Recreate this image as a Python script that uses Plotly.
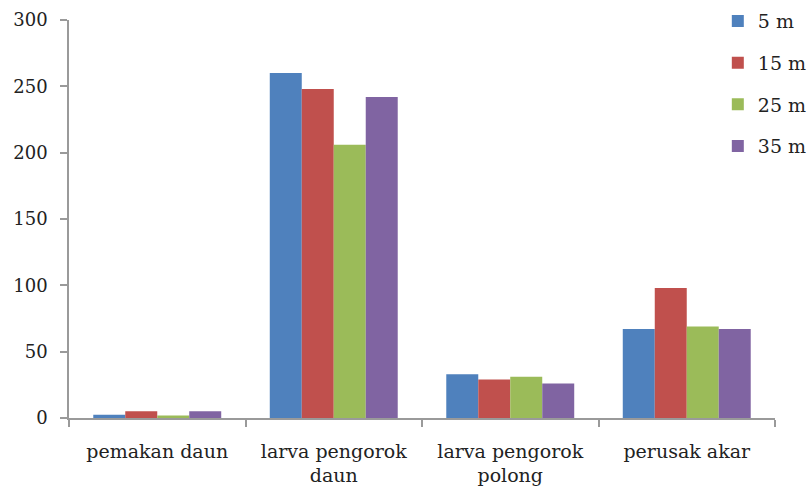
import plotly.graph_objects as go

categories = ["pemakan daun", "larva pengorok<br>daun", "larva pengorok<br>polong", "perusak akar"]
series_names = ["5 m", "15 m", "25 m", "35 m"]
values_5m = [2.5, 260, 33, 67]
values_15m = [5, 248, 29, 98]
values_25m = [1.8, 206, 31, 69]
values_35m = [5, 242, 26, 67]
colors = ["#4F81BD", "#C0504D", "#9BBB59", "#8064A2"]
y_ticks = [0, 50, 100, 150, 200, 250, 300]

fig = go.Figure()
for name, vals, col in zip(series_names, [values_5m, values_15m, values_25m, values_35m], colors):
    fig.add_trace(go.Bar(x=categories, y=vals, name=name, marker=dict(color=col, line=dict(width=0)),
                         legendgroup=name))

font_family = "DejaVu Serif, Liberation Serif, serif"
fig.update_layout(
    width=811, height=489,
    margin=dict(l=69, r=36, t=20, b=71, autoexpand=False),
    paper_bgcolor="white", plot_bgcolor="white",
    barmode="group", bargap=0.275, bargroupgap=0,
    font=dict(family=font_family, size=19, color="#222222"),
    showlegend=True,
    legend=dict(x=0.919, y=1.045, xanchor="left", yanchor="top",
                font=dict(family=font_family, size=19, color="#222222"),
                tracegroupgap=14, traceorder="grouped", bgcolor="rgba(0,0,0,0)",
                itemwidth=30),
    xaxis=dict(showline=True, linecolor="#9a9a9a", linewidth=1.5, ticks="outside",
               tickson="boundaries", ticklen=7, tickcolor="#9a9a9a", tickwidth=1.5,
               showgrid=False, tickfont=dict(size=19), ticklabelstandoff=15),
    yaxis=dict(range=[0, 300], tickvals=y_ticks, showline=True, linecolor="#9a9a9a",
               linewidth=1.5, ticks="outside", ticklen=7, tickcolor="#9a9a9a", tickwidth=1.5,
               showgrid=False, zeroline=False, tickfont=dict(size=18), ticklabelstandoff=9),
)
fig.write_html("out.html", config={"displayModeBar": False},
               post_script="document.body.style.margin='0';document.body.style.overflow='hidden';")
